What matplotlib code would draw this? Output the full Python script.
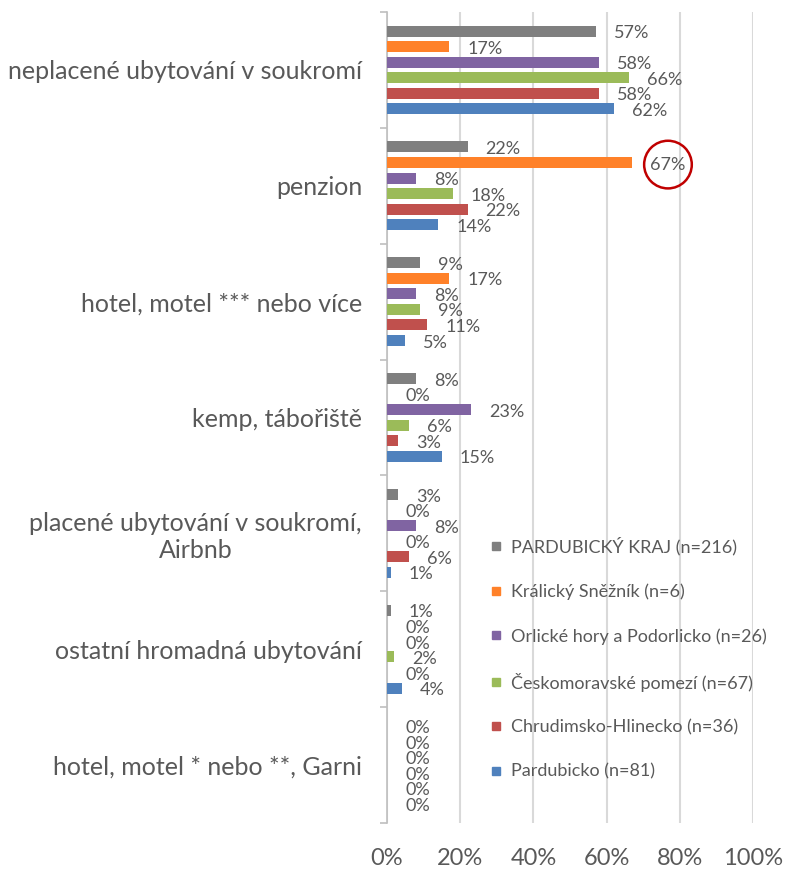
import matplotlib
matplotlib.use("Agg")
import matplotlib.pyplot as plt
from matplotlib.lines import Line2D

plt.rcParams['font.family'] = ['Lato', 'DejaVu Sans']

categories = [
    "neplacené ubytování v soukromí",
    "penzion",
    "hotel, motel *** nebo více",
    "kemp, tábořiště",
    "placené ubytování v soukromí,\nAirbnb",
    "ostatní hromadná ubytování",
    "hotel, motel * nebo **, Garni",
]
series_names = [
    "PARDUBICKÝ KRAJ (n=216)",
    "Králický Sněžník (n=6)",
    "Orlické hory a Podorlicko (n=26)",
    "Českomoravské pomezí (n=67)",
    "Chrudimsko-Hlinecko (n=36)",
    "Pardubicko (n=81)",
]
pardubicky_kraj = [57, 22, 9, 8, 3, 1, 0]
kralicky_sneznik = [17, 67, 17, 0, 0, 0, 0]
orlicke_hory = [58, 8, 8, 23, 8, 0, 0]
ceskomoravske = [66, 18, 9, 6, 0, 2, 0]
chrudimsko = [58, 22, 11, 3, 6, 0, 0]
pardubicko = [62, 14, 5, 15, 1, 4, 0]
series_values = [pardubicky_kraj, kralicky_sneznik, orlicke_hory,
                 ceskomoravske, chrudimsko, pardubicko]
colors = ["#7F7F7F", "#FF8129", "#8064A2", "#9BBB59", "#C0504D", "#4F81BD"]
x_ticks = [0, 20, 40, 60, 80, 100]
highlight = (1, 1)  # (series index, category index) circled

TEXT = "#595959"
W, H = 790, 869
fig = plt.figure(figsize=(W / 100, H / 100), dpi=100)
ax = fig.add_axes([387 / W, 46 / H, 366 / W, 811 / H])

step = 0.134
bh = 0.095
n = len(series_values)
for k, (vals, col) in enumerate(zip(series_values, colors)):
    ys = [i + (k - (n - 1) / 2) * step for i in range(len(categories))]
    ax.barh(ys, [v / 100 for v in vals], height=bh, color=col, zorder=3)
    for ci, (y, v) in enumerate(zip(ys, vals)):
        kw = {}
        if (k, ci) == highlight:
            kw['bbox'] = dict(boxstyle='circle,pad=0.34', fc='none',
                              ec='#C00000', lw=1.8)
        ax.annotate(f"{v}%", (v / 100, y), xytext=(13, -1.5),
                    textcoords='offset points', ha='left', va='center',
                    fontsize=13, color=TEXT, zorder=5, **kw)

ax.set_xlim(0, 1)
ax.set_ylim(len(categories) - 0.5, -0.5)
ax.set_xticks([t / 100 for t in x_ticks])
ax.set_xticklabels([f"{t}%" for t in x_ticks])
ax.set_yticks(range(len(categories)))
ax.set_yticklabels(categories, multialignment='center')
ax.set_yticks([i - 0.5 for i in range(len(categories) + 1)], minor=True)
ax.tick_params(axis='y', which='major', length=0, pad=18, labelsize=18,
               labelcolor=TEXT)
ax.tick_params(axis='y', which='minor', length=5, color='#BFBFBF', width=1.2)
ax.tick_params(axis='x', length=0, pad=18, labelsize=17, labelcolor=TEXT)
ax.grid(axis='x', color='#D9D9D9', lw=1.5, zorder=0)
ax.set_axisbelow(True)
for s in ['top', 'right', 'bottom']:
    ax.spines[s].set_visible(False)
ax.spines['left'].set_color('#BFBFBF')
ax.spines['left'].set_linewidth(1.2)

handles = [Line2D([], [], marker='s', ls='none', color=c, markersize=5.5)
           for c in colors]
leg = fig.legend(handles, series_names, loc='upper left',
                 bbox_to_anchor=(490 / W, 1 - 537 / H), frameon=False,
                 fontsize=13, labelspacing=1.55, handletextpad=0.45,
                 handlelength=0.7, borderpad=0, borderaxespad=0)
for t in leg.get_texts():
    t.set_color(TEXT)

fig.savefig("out.png", dpi=100)
